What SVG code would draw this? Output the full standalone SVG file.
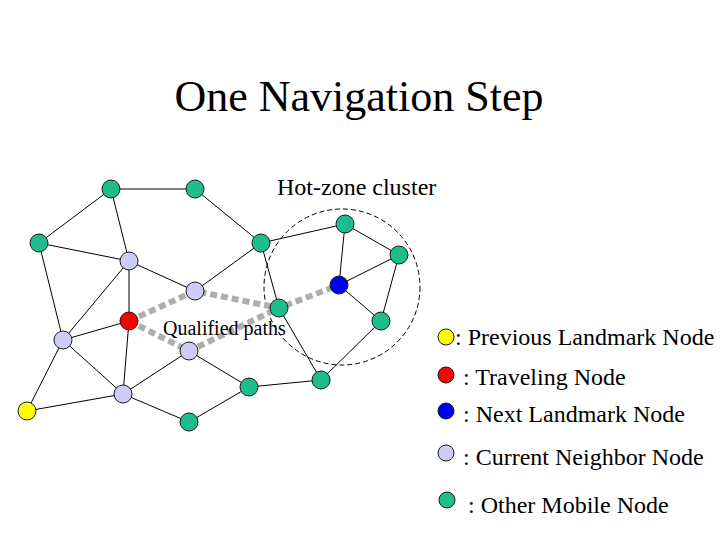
<svg xmlns="http://www.w3.org/2000/svg" width="720" height="540" viewBox="0 0 720 540">
<style>
.e{stroke:#000;stroke-width:1;fill:none}
.p{stroke:#adadad;stroke-width:6;stroke-dasharray:7 4;fill:none}
.n{stroke:#1a1a1a;stroke-width:1}
.g{fill:#1dbd8d}
.l{fill:#ccccf6}
.r{fill:#ff0000}
.b{fill:#0000f0}
.y{fill:#ffff00}
text{font-family:"Liberation Serif","Times New Roman",serif;fill:#000}
</style>
<rect width="720" height="540" fill="#fff"/>
<text x="359" y="111" font-size="44" text-anchor="middle">One Navigation Step</text>
<text x="277" y="195" font-size="24">Hot-zone cluster</text>
<circle cx="342" cy="287" r="78" fill="none" stroke="#000" stroke-width="1" stroke-dasharray="5 3"/>
<g id="connectors">
<line class="e" x1="111" y1="189" x2="195" y2="189"/>
<line class="e" x1="111" y1="189" x2="39" y2="243"/>
<line class="e" x1="111" y1="189" x2="129" y2="261"/>
<line class="e" x1="39" y1="243" x2="129" y2="261"/>
<line class="e" x1="39" y1="243" x2="63" y2="340"/>
<line class="e" x1="129" y1="261" x2="195" y2="291"/>
<line class="e" x1="129" y1="261" x2="129" y2="321"/>
<line class="e" x1="129" y1="261" x2="63" y2="340"/>
<line class="e" x1="195" y1="189" x2="261" y2="243"/>
<line class="e" x1="195" y1="291" x2="261" y2="243"/>
<line class="e" x1="261" y1="243" x2="345" y2="224"/>
<line class="e" x1="261" y1="243" x2="279" y2="308"/>
<line class="e" x1="345" y1="224" x2="339" y2="285"/>
<line class="e" x1="345" y1="224" x2="399" y2="255"/>
<line class="e" x1="399" y1="255" x2="339" y2="285"/>
<line class="e" x1="399" y1="255" x2="381" y2="321"/>
<line class="e" x1="339" y1="285" x2="381" y2="321"/>
<line class="e" x1="381" y1="321" x2="321" y2="380"/>
<line class="e" x1="279" y1="308" x2="321" y2="380"/>
<line class="e" x1="321" y1="380" x2="249" y2="387"/>
<line class="e" x1="249" y1="387" x2="189" y2="351"/>
<line class="e" x1="249" y1="387" x2="189" y2="422"/>
<line class="e" x1="189" y1="351" x2="123" y2="394"/>
<line class="e" x1="129" y1="321" x2="63" y2="340"/>
<line class="e" x1="129" y1="321" x2="123" y2="394"/>
<line class="e" x1="63" y1="340" x2="123" y2="394"/>
<line class="e" x1="63" y1="340" x2="27" y2="411"/>
<line class="e" x1="27" y1="411" x2="123" y2="394"/>
<line class="e" x1="123" y1="394" x2="189" y2="422"/>
<polyline class="p" points="129,321 195,291 279,308 339,285"/>
<polyline class="p" points="129,321 189,351 279,308"/>
</g>
<text x="163" y="335" font-size="20">Qualified paths</text>
<g id="g1"><circle class="n g" cx="111" cy="189" r="9"/></g>
<g id="g2"><circle class="n g" cx="195" cy="189" r="9"/></g>
<g id="g3"><circle class="n g" cx="39" cy="243" r="9"/></g>
<g id="g4"><circle class="n g" cx="261" cy="243" r="9"/></g>
<g id="g5"><circle class="n g" cx="345" cy="224" r="9"/></g>
<g id="g6"><circle class="n g" cx="399" cy="255" r="9"/></g>
<g id="g7"><circle class="n g" cx="279" cy="308" r="9"/></g>
<g id="g8"><circle class="n g" cx="381" cy="321" r="9"/></g>
<g id="g9"><circle class="n g" cx="249" cy="387" r="9"/></g>
<g id="g10"><circle class="n g" cx="321" cy="380" r="9"/></g>
<g id="g11"><circle class="n g" cx="189" cy="422" r="9"/></g>
<g id="n1"><circle class="n l" cx="129" cy="261" r="9"/></g>
<g id="n2"><circle class="n l" cx="195" cy="291" r="9"/></g>
<g id="n3"><circle class="n l" cx="63" cy="340" r="9"/></g>
<g id="n4"><circle class="n l" cx="189" cy="351" r="9"/></g>
<g id="n5"><circle class="n l" cx="123" cy="394" r="9"/></g>
<g id="traveling"><circle class="n r" cx="129" cy="321" r="9"/></g>
<g id="next"><circle class="n b" cx="339" cy="285" r="9"/></g>
<g id="previous"><circle class="n y" cx="27" cy="411" r="9"/></g>
<g id="legend">
<circle class="n y" cx="446" cy="337" r="8"/>
<text x="455" y="345" font-size="24">: Previous Landmark Node</text>
<circle class="n r" cx="446" cy="375" r="8"/>
<text x="463" y="385" font-size="24">: Traveling Node</text>
<circle class="n b" cx="446" cy="411" r="8"/>
<text x="463" y="422" font-size="24">: Next Landmark Node</text>
<circle class="n l" cx="446" cy="453" r="8"/>
<text x="463" y="465" font-size="24">: Current Neighbor Node</text>
<circle class="n g" cx="447" cy="500" r="8"/>
<text x="468" y="513" font-size="24">: Other Mobile Node</text>
</g>
</svg>
